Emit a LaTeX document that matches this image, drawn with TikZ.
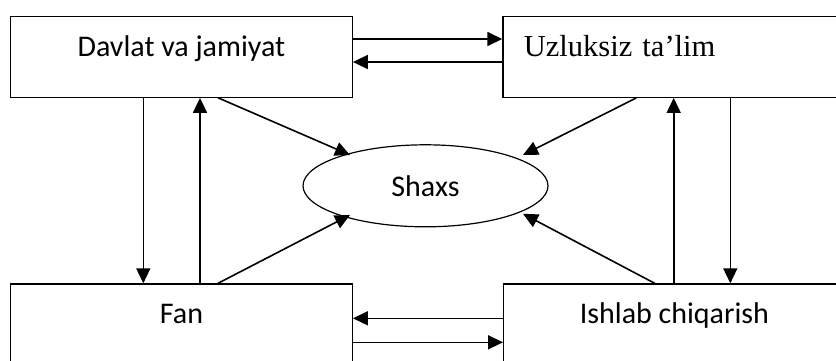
\documentclass[tikz,border=0pt]{standalone}
\usepackage{fontspec}
\setmainfont{Carlito}
\newfontfamily\timesfont{Liberation Serif}
\usetikzlibrary{calc,arrows.meta,shapes.geometric}

\begin{document}
\begin{tikzpicture}[x=1pt,y=-1pt,
  box/.style={draw,line width=1.2pt,minimum width=341.7pt,inner sep=0pt,
    text height=40pt,text depth=41pt,anchor=north west,
    font=\fontsize{30}{36}\selectfont},
  arr/.style={line width=1.6pt,-{Triangle[length=15pt,width=14pt]}}]
  \useasboundingbox (0,0) rectangle (836,360);
  \clip (0,0) rectangle (836,360);

  % Draw the four boxes
  \node[box] (davlat) at (10,15.7) {Davlat va jamiyat};
  \node[box,inner xsep=21pt,text width=299.7pt,align=left,
    font=\fontsize{30.5}{36}\timesfont] (talim) at (502.3,15.7) {Uzluksiz ta’lim};
  \node[box] (fan) at (10,283.3) {Fan};
  \node[box] (ishlab) at (503,283.3) {Ishlab chiqarish};

  % The person in the middle
  \node[draw,ellipse,line width=1.2pt,minimum width=245pt,minimum height=82pt,
    inner sep=0pt,font=\fontsize{30}{36}\selectfont] (shaxs) at (425.5,185.8) {Shaxs};

  % Arrows between the boxes
  \draw[arr] ($(davlat.north east)+(0,23.3)$) -- ($(talim.north west)+(0,23.3)$);
  \draw[arr] ($(talim.north west)+(0,46.3)$) -- ($(davlat.north east)+(0,46.3)$);
  \draw[arr] ($(ishlab.north west)+(0,35)$) -- ($(fan.north east)+(0,35)$);
  \draw[arr] ($(fan.north east)+(0,59)$) -- ($(ishlab.north west)+(0,59)$);

  \draw[arr] ($(davlat.south west)+(133.3,0)$) -- ($(fan.north west)+(133.3,0)$);
  \draw[arr] ($(fan.north west)+(190,0)$) -- ($(davlat.south west)+(190,0)$);
  \draw[arr] ($(ishlab.north west)+(170.7,0)$) -- ($(talim.south west)+(171.4,0)$);
  \draw[arr] ($(talim.south west)+(228,0)$) -- ($(ishlab.north west)+(227.3,0)$);

  % Arrows into the ellipse
  \draw[arr] ($(davlat.south west)+(208.3,0)$) -- ($(shaxs.center)+(-75.5,-30.8)$);
  \draw[arr] ($(talim.south west)+(134,0)$) -- ($(shaxs.center)+(97.5,-30.8)$);
  \draw[arr] ($(fan.north west)+(208,0)$) -- ($(shaxs.center)+(-75.5,29.2)$);
  \draw[arr] ($(ishlab.north west)+(151.7,0)$) -- ($(shaxs.center)+(97.5,28)$);
\end{tikzpicture}
\end{document}
